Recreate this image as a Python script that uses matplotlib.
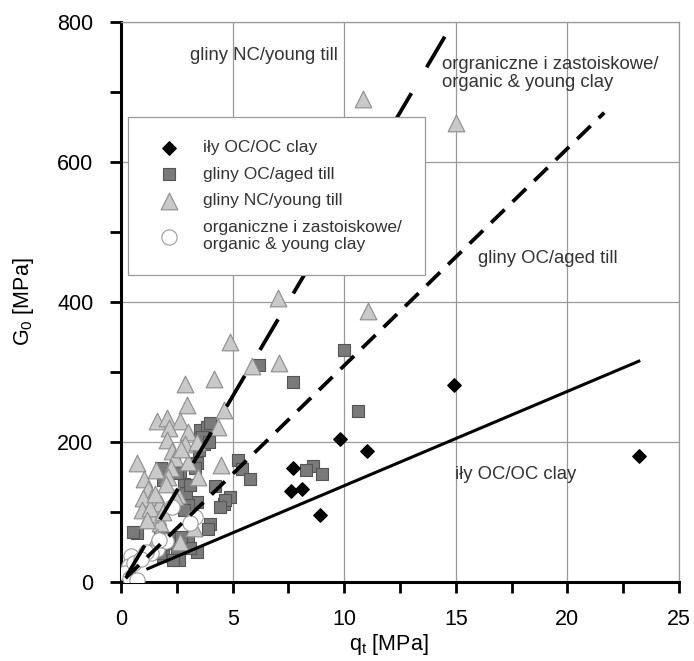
import matplotlib
matplotlib.use("Agg")
import matplotlib.pyplot as plt
from matplotlib.ticker import MultipleLocator

plt.rcParams['font.family'] = ['Liberation Sans', 'DejaVu Sans']

# iły OC / OC clay
q_clay = [7.7, 7.6, 8.1, 8.9, 9.8, 11.0, 14.9, 23.2]
g_clay = [162, 130, 133, 95, 204, 187, 281, 180]

# gliny OC / aged till
q_aged = [10.0, 10.6, 6.2, 7.7, 5.25, 5.4, 5.8, 4.9, 4.6, 4.2, 4.0, 3.9, 3.4, 3.0,
          2.35, 2.5, 3.0, 3.4, 2.6, 1.9, 0.7, 1.8, 1.9, 2.8, 2.9, 3.4, 3.5, 3.7,
          3.55, 3.85, 3.65, 8.6, 8.3, 9.0, 2.65, 2.2, 1.75, 3.1, 0.55, 2.7, 2.35,
          1.75, 3.3, 2.5, 3.1, 4.65, 4.45, 2.8, 3.95, 4.0]
g_aged = [331, 244, 310, 285, 174, 161, 146, 121, 111, 136, 82, 75, 114, 110,
          63, 48, 60, 43, 31, 36, 70, 162, 145, 140, 126, 170, 188, 196,
          217, 221, 207, 165, 160, 154, 157, 55, 41, 48, 71, 64, 31,
          69, 162, 155, 138, 117, 107, 102, 200, 226]

# gliny NC / young till
q_young = [10.85, 15.0, 11.05, 7.05, 4.9, 7.1, 5.85, 4.15, 2.85, 4.6, 4.35, 2.95,
           1.6, 2.05, 2.65, 2.15, 3.0, 2.05, 2.85, 3.4, 2.3, 2.4, 3.0, 0.7, 1.05,
           1.2, 1.4, 1.0, 2.25, 2.1, 2.55, 3.45, 4.5, 1.65, 2.65, 1.75, 1.3, 0.95,
           1.8, 2.4, 1.75, 1.3, 1.15, 3.25, 1.6, 1.5, 2.0, 1.9, 2.7, 1.55]
g_young = [690, 655, 386, 405, 343, 312, 308, 290, 282, 245, 221, 253,
           230, 234, 229, 219, 214, 203, 196, 200, 186, 176, 171, 169, 146,
           133, 121, 119, 162, 149, 124, 150, 167, 93, 57, 84, 96, 102,
           110, 121, 112, 105, 88, 76, 64, 125, 140, 100, 190, 160]

# organiczne i zastoiskowe / organic & young clay
q_org = [2.3, 3.3, 3.1, 1.6, 1.35, 1.1, 0.45, 0.35, 0.2, 0.4, 0.7, 0.6, 0.9, 2.0, 1.7]
g_org = [106, 92, 84, 47, 41, 42, 36, 22, 12, 5, 3, 26, 32, 58, 60]

# trend lines (end points)
line_clay_q = [1.2, 23.2]
line_clay_g = [18.5, 315]
line_aged_q = [0.2, 21.65]
line_aged_g = [5, 670]
line_young_q = [0.25, 14.9]
line_young_g = [8, 800]

fig = plt.figure(figsize=(6.94, 6.61), dpi=100)
ax = fig.add_axes([0.1744, 0.12, 0.804, 0.8472])

ax.scatter(q_aged, g_aged, marker='s', s=9 ** 2, color='#7a7a7a',
           edgecolors='#555555', linewidths=0.8, zorder=3, label='gliny OC/aged till')
ax.scatter(q_young, g_young, marker='^', s=12 ** 2, color='#c9c9c9',
           edgecolors='#8c8c8c', linewidths=0.8, zorder=3, label='gliny NC/young till')
ax.scatter(q_org, g_org, marker='o', s=11 ** 2, color='white',
           edgecolors='#9a9a9a', linewidths=0.8, zorder=4,
           label='organiczne i zastoiskowe/\norganic & young clay')
ax.scatter(q_clay, g_clay, marker='D', s=6.8 ** 2, color='black',
           edgecolors='black', zorder=4, label='iły OC/OC clay')

ax.plot(line_clay_q, line_clay_g, color='black', lw=2.2, zorder=5)
ax.plot(line_aged_q, line_aged_g, color='black', lw=2.7, dashes=(5, 3), zorder=5)
ax.plot(line_young_q, line_young_g, color='black', lw=2.7, dashes=(9.5, 8), zorder=5)

ax.set_xlim(0, 25)
ax.set_ylim(0, 800)
ax.xaxis.set_major_locator(MultipleLocator(5))
ax.xaxis.set_minor_locator(MultipleLocator(2.5))
ax.yaxis.set_major_locator(MultipleLocator(200))
ax.yaxis.set_minor_locator(MultipleLocator(100))
ax.grid(True, which='major', color='#9a9a9a', lw=0.9, zorder=0)
ax.set_axisbelow(True)

for side in ['left', 'bottom']:
    ax.spines[side].set_linewidth(2.2)
    ax.spines[side].set_color('black')
for side in ['top', 'right']:
    ax.spines[side].set_linewidth(0.9)
    ax.spines[side].set_color('#9a9a9a')

ax.tick_params(which='both', direction='out', length=8, width=2, color='black',
               top=False, right=False)
ax.tick_params(axis='x', which='major', labelsize=15.5, pad=12)
ax.tick_params(axis='y', which='major', labelsize=15.5, pad=12)

ax.set_xlabel(r'q$_{\mathregular{t}}$ [MPa]', fontsize=15.5)
ax.set_ylabel(r'G$_{\mathregular{0}}$ [MPa]', fontsize=15.5)
ax.xaxis.set_label_coords(0.48, -0.09)
ax.yaxis.set_label_coords(-0.152, 0.5)

txt = dict(fontsize=13.3, color='#333333', zorder=6)
ax.text(3.1, 752, 'gliny NC/young till', va='center', **txt)
ax.text(14.4, 726, 'orgraniczne i zastoiskowe/\norganic & young clay',
        va='center', linespacing=1.15, **txt)
ax.text(16.0, 462, 'gliny OC/aged till', va='center', **txt)
ax.text(14.95, 153, 'iły OC/OC clay', va='center', **txt)

handles, labels = ax.get_legend_handles_labels()
order = [3, 0, 1, 2]
leg = ax.legend([handles[i] for i in order], [labels[i] for i in order],
                loc='upper left', bbox_to_anchor=(0.0125, 0.83), fontsize=12.5,
                frameon=True, fancybox=False, edgecolor='#9a9a9a', framealpha=1,
                labelspacing=0.65, borderpad=1.35, handletextpad=0.95,
                borderaxespad=0, labelcolor='#333333')
leg.get_frame().set_linewidth(0.9)
leg.set_zorder(7)

fig.savefig('out.png', dpi=100)
